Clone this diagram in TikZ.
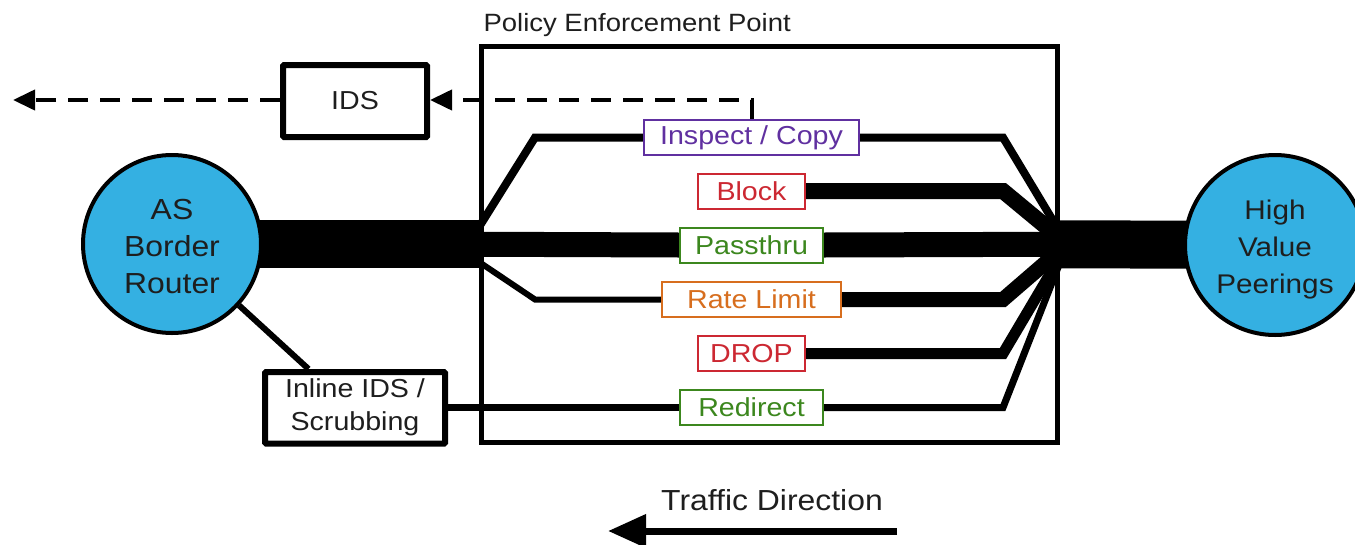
\documentclass[tikz,border=0pt]{standalone}
\usepackage{fontspec}
\setmainfont{Liberation Sans}[FakeStretch=1.1]
\usetikzlibrary{arrows.meta,calc,backgrounds}
\definecolor{cblue}{RGB}{52,176,226}
\definecolor{cpurple}{RGB}{96,48,160}
\definecolor{cred}{RGB}{204,40,50}
\definecolor{cgreen}{RGB}{60,135,30}
\definecolor{corange}{RGB}{215,110,30}
\definecolor{ctext}{RGB}{30,30,30}
\begin{document}
\begin{tikzpicture}[x=1pt,y=-1pt,
  circ/.style={circle, draw=black, line width=4pt, fill=cblue, minimum size=178pt, inner sep=0pt},
  circtext/.style={align=center, text=ctext, font=\fontsize{#1}{37}\selectfont},
  lbl/.style={draw=#1, text=#1, line width=2pt, fill=white, inner sep=0pt, minimum height=35pt, font=\fontsize{26}{30}\selectfont},
  bigbox/.style={draw=black, line width=6pt, fill=white, inner sep=0pt, rounded corners=1pt, align=center, text=ctext, font=\fontsize{26}{33}\selectfont},
  pepbox/.style={draw=black, line width=5pt, inner sep=0pt},
  flow/.style={draw=black, line cap=butt, line join=miter},
  dashline/.style={draw=black, line width=4pt, dash pattern=on 20pt off 12pt},
  tip/.style={-{Triangle[length=22pt,width=20pt]}}
]
\useasboundingbox (0,0) rectangle (1355,544);

% main nodes
\node[pepbox, minimum width=576.5pt, minimum height=396.5pt] (pep) at (769.25,244.25) {};
\node[anchor=base west, text=ctext, font=\fontsize{25}{30}\selectfont] (peptitle) at (480,31) {Policy Enforcement Point};

\node[circ, label={[circtext=29, yshift=-3pt]center:{AS\\Border\\Router}}] (asbr) at (172,244) {};
\node[circ, minimum size=180pt, label={[circtext=27, yshift=-5pt]center:{High\\Value\\Peerings}}] (hvp) at (1275,245) {};

\node[bigbox, minimum width=144pt, minimum height=72pt] (ids) at (355,101) {IDS};
\node[bigbox, minimum width=180pt, minimum height=71.5pt] (inline) at (355,407.75) {Inline IDS /\\Scrubbing};

\node[lbl=cpurple, minimum width=215pt] (insp) at (751.5,137.5) {Inspect / Copy};
\node[lbl=cred, minimum width=107pt] (block) at (751.5,191) {Block};
\node[lbl=cgreen, minimum width=143pt] (pass) at (751.5,245) {Passthru};
\node[lbl=corange, minimum width=179pt] (rate) at (751.5,299.5) {Rate Limit};
\node[lbl=cred, minimum width=107pt] (drop) at (751.5,353.5) {DROP};
\node[lbl=cgreen, minimum width=143pt] (redir) at (751.5,407.5) {Redirect};

\node[text=ctext, font=\fontsize{29}{34}\selectfont] (tdtext) at (772,500) {Traffic Direction};

% coordinates
\coordinate (jl) at (pep.west);
\coordinate (jr) at (pep.east);
\coordinate (leftend) at (13,100);
\coordinate (tdS) at (897,531);
\coordinate (tdE) at (608,531);

\begin{pgfonlayer}{background}
  % trunk bars
  \draw[flow, line width=48pt] (asbr.center) -- (asbr.center -| jl);
  \draw[flow, line width=48pt] (jr) -- (hvp.center);
  \draw[flow, line width=25pt] (jl) -- (pass.west);
  \draw[flow, line width=25pt] (pass.east) -- (jr);
  % inspect
  \draw[flow, line width=8pt] ($(jl)+(1,-18)$) -- (535,137.5) -- (insp.west);
  \draw[flow, line width=8pt] (insp.east) -- (1003,137.5) -- ($(jr)+(0,-12)$);
  % block
  \draw[flow, line width=16pt] (block.east) -- (1003,191) -- ($(jr)+(0,-6)$);
  % rate limit
  \draw[flow, line width=6pt] ($(jl)+(1,18)$) -- (535,299.5) -- (rate.west);
  \draw[flow, line width=15pt] (rate.east) -- (1003,299.5) -- ($(jr)+(0,6)$);
  % drop
  \draw[flow, line width=11pt] (drop.east) -- (1003,353.5) -- ($(jr)+(0,13)$);
  % redirect
  \draw[flow, line width=7pt] (inline.east |- redir.west) -- (redir.west);
  \draw[flow, line width=7pt] (redir.east) -- (1003,407.5) -- ($(jr)+(0,18)$);
  % router to inline IDS
  \draw[flow, line width=6pt] (asbr) -- ($(inline.north west)!0.25!(inline.north east)$);
\end{pgfonlayer}

% dashed copy path
\draw[dashline, tip] (insp.north) -- (insp.north |- 0,100) -- (ids.east |- 0,100);
\draw[dashline, tip] (ids.west |- 0,100) -- (leftend);

% traffic direction arrow
\draw[black, line width=7pt, -{Triangle[length=38pt,width=32pt]}] (tdS) -- (tdE);
\end{tikzpicture}
\end{document}
